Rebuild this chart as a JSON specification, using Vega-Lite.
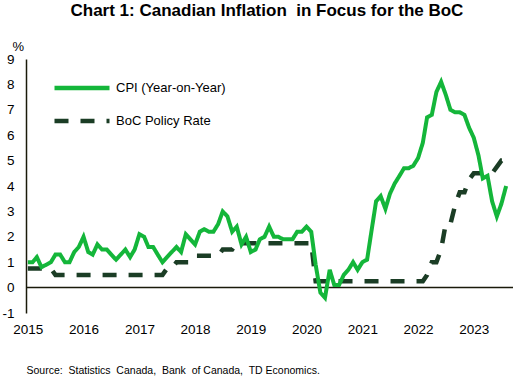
{
  "$schema": "https://vega.github.io/schema/vega-lite/v6.json",
  "autosize": {"type": "none"},
  "width": 487,
  "height": 254,
  "padding": {"left": 26, "top": 59, "right": 3, "bottom": 72},
  "background": "white",
  "config": {
    "view": {"stroke": null},
    "font": "Liberation Sans",
    "axis": {"labelFont": "Liberation Sans", "titleFont": "Liberation Sans", "labelColor": "#000000", "titleColor": "#000000", "labelOverlap": false, "ticks": false, "grid": false}
  },
  "title": {
    "text": "Chart 1: Canadian Inflation\u00a0 in Focus for the BoC",
    "fontSize": 17,
    "fontWeight": "bold",
    "font": "Liberation Sans",
    "color": "#000000",
    "anchor": "middle",
    "frame": "bounds",
    "offset": 20,
    "dx": 6
  },
  "datasets": {
    "cpi": [
      {"date": "2015-01-01", "value": 1.0}, {"date": "2015-02-01", "value": 1.0}, {"date": "2015-03-01", "value": 1.2}, {"date": "2015-04-01", "value": 0.8},
      {"date": "2015-05-01", "value": 0.9}, {"date": "2015-06-01", "value": 1.0}, {"date": "2015-07-01", "value": 1.3}, {"date": "2015-08-01", "value": 1.3},
      {"date": "2015-09-01", "value": 1.0}, {"date": "2015-10-01", "value": 1.0}, {"date": "2015-11-01", "value": 1.4}, {"date": "2015-12-01", "value": 1.6},
      {"date": "2016-01-01", "value": 2.0}, {"date": "2016-02-01", "value": 1.4}, {"date": "2016-03-01", "value": 1.3}, {"date": "2016-04-01", "value": 1.7},
      {"date": "2016-05-01", "value": 1.5}, {"date": "2016-06-01", "value": 1.5}, {"date": "2016-07-01", "value": 1.3}, {"date": "2016-08-01", "value": 1.1},
      {"date": "2016-09-01", "value": 1.3}, {"date": "2016-10-01", "value": 1.5}, {"date": "2016-11-01", "value": 1.2}, {"date": "2016-12-01", "value": 1.5},
      {"date": "2017-01-01", "value": 2.1}, {"date": "2017-02-01", "value": 2.0}, {"date": "2017-03-01", "value": 1.6}, {"date": "2017-04-01", "value": 1.6},
      {"date": "2017-05-01", "value": 1.3}, {"date": "2017-06-01", "value": 1.0}, {"date": "2017-07-01", "value": 1.2}, {"date": "2017-08-01", "value": 1.4},
      {"date": "2017-09-01", "value": 1.6}, {"date": "2017-10-01", "value": 1.4}, {"date": "2017-11-01", "value": 2.1}, {"date": "2017-12-01", "value": 1.9},
      {"date": "2018-01-01", "value": 1.7}, {"date": "2018-02-01", "value": 2.2}, {"date": "2018-03-01", "value": 2.3}, {"date": "2018-04-01", "value": 2.2},
      {"date": "2018-05-01", "value": 2.2}, {"date": "2018-06-01", "value": 2.5}, {"date": "2018-07-01", "value": 3.0}, {"date": "2018-08-01", "value": 2.8},
      {"date": "2018-09-01", "value": 2.2}, {"date": "2018-10-01", "value": 2.4}, {"date": "2018-11-01", "value": 1.7}, {"date": "2018-12-01", "value": 2.0},
      {"date": "2019-01-01", "value": 1.4}, {"date": "2019-02-01", "value": 1.5}, {"date": "2019-03-01", "value": 1.9}, {"date": "2019-04-01", "value": 2.0},
      {"date": "2019-05-01", "value": 2.4}, {"date": "2019-06-01", "value": 2.0}, {"date": "2019-07-01", "value": 2.0}, {"date": "2019-08-01", "value": 1.9},
      {"date": "2019-09-01", "value": 1.9}, {"date": "2019-10-01", "value": 1.9}, {"date": "2019-11-01", "value": 2.2}, {"date": "2019-12-01", "value": 2.2},
      {"date": "2020-01-01", "value": 2.4}, {"date": "2020-02-01", "value": 2.2}, {"date": "2020-03-01", "value": 0.9}, {"date": "2020-04-01", "value": -0.2},
      {"date": "2020-05-01", "value": -0.4}, {"date": "2020-06-01", "value": 0.7}, {"date": "2020-07-01", "value": 0.1}, {"date": "2020-08-01", "value": 0.1},
      {"date": "2020-09-01", "value": 0.5}, {"date": "2020-10-01", "value": 0.7}, {"date": "2020-11-01", "value": 1.0}, {"date": "2020-12-01", "value": 0.7},
      {"date": "2021-01-01", "value": 1.0}, {"date": "2021-02-01", "value": 1.1}, {"date": "2021-03-01", "value": 2.2}, {"date": "2021-04-01", "value": 3.4},
      {"date": "2021-05-01", "value": 3.6}, {"date": "2021-06-01", "value": 3.1}, {"date": "2021-07-01", "value": 3.7}, {"date": "2021-08-01", "value": 4.1},
      {"date": "2021-09-01", "value": 4.4}, {"date": "2021-10-01", "value": 4.7}, {"date": "2021-11-01", "value": 4.7}, {"date": "2021-12-01", "value": 4.8},
      {"date": "2022-01-01", "value": 5.1}, {"date": "2022-02-01", "value": 5.7}, {"date": "2022-03-01", "value": 6.7}, {"date": "2022-04-01", "value": 6.8},
      {"date": "2022-05-01", "value": 7.7}, {"date": "2022-06-01", "value": 8.1}, {"date": "2022-07-01", "value": 7.6}, {"date": "2022-08-01", "value": 7.0},
      {"date": "2022-09-01", "value": 6.9}, {"date": "2022-10-01", "value": 6.9}, {"date": "2022-11-01", "value": 6.8}, {"date": "2022-12-01", "value": 6.3},
      {"date": "2023-01-01", "value": 5.9}, {"date": "2023-02-01", "value": 5.2}, {"date": "2023-03-01", "value": 4.3}, {"date": "2023-04-01", "value": 4.4},
      {"date": "2023-05-01", "value": 3.4}, {"date": "2023-06-01", "value": 2.8}, {"date": "2023-07-01", "value": 3.3}, {"date": "2023-08-01", "value": 4.0}
    ],
    "boc": [
      {"date": "2015-01-01", "value": 0.75}, {"date": "2015-02-01", "value": 0.75}, {"date": "2015-03-01", "value": 0.75}, {"date": "2015-04-01", "value": 0.75},
      {"date": "2015-05-01", "value": 0.75}, {"date": "2015-06-01", "value": 0.75}, {"date": "2015-07-01", "value": 0.5}, {"date": "2015-08-01", "value": 0.5},
      {"date": "2015-09-01", "value": 0.5}, {"date": "2015-10-01", "value": 0.5}, {"date": "2015-11-01", "value": 0.5}, {"date": "2015-12-01", "value": 0.5},
      {"date": "2016-01-01", "value": 0.5}, {"date": "2016-02-01", "value": 0.5}, {"date": "2016-03-01", "value": 0.5}, {"date": "2016-04-01", "value": 0.5},
      {"date": "2016-05-01", "value": 0.5}, {"date": "2016-06-01", "value": 0.5}, {"date": "2016-07-01", "value": 0.5}, {"date": "2016-08-01", "value": 0.5},
      {"date": "2016-09-01", "value": 0.5}, {"date": "2016-10-01", "value": 0.5}, {"date": "2016-11-01", "value": 0.5}, {"date": "2016-12-01", "value": 0.5},
      {"date": "2017-01-01", "value": 0.5}, {"date": "2017-02-01", "value": 0.5}, {"date": "2017-03-01", "value": 0.5}, {"date": "2017-04-01", "value": 0.5},
      {"date": "2017-05-01", "value": 0.5}, {"date": "2017-06-01", "value": 0.5}, {"date": "2017-07-01", "value": 0.75}, {"date": "2017-08-01", "value": 0.75},
      {"date": "2017-09-01", "value": 1.0}, {"date": "2017-10-01", "value": 1.0}, {"date": "2017-11-01", "value": 1.0}, {"date": "2017-12-01", "value": 1.0},
      {"date": "2018-01-01", "value": 1.25}, {"date": "2018-02-01", "value": 1.25}, {"date": "2018-03-01", "value": 1.25}, {"date": "2018-04-01", "value": 1.25},
      {"date": "2018-05-01", "value": 1.25}, {"date": "2018-06-01", "value": 1.25}, {"date": "2018-07-01", "value": 1.5}, {"date": "2018-08-01", "value": 1.5},
      {"date": "2018-09-01", "value": 1.5}, {"date": "2018-10-01", "value": 1.75}, {"date": "2018-11-01", "value": 1.75}, {"date": "2018-12-01", "value": 1.75},
      {"date": "2019-01-01", "value": 1.75}, {"date": "2019-02-01", "value": 1.75}, {"date": "2019-03-01", "value": 1.75}, {"date": "2019-04-01", "value": 1.75},
      {"date": "2019-05-01", "value": 1.75}, {"date": "2019-06-01", "value": 1.75}, {"date": "2019-07-01", "value": 1.75}, {"date": "2019-08-01", "value": 1.75},
      {"date": "2019-09-01", "value": 1.75}, {"date": "2019-10-01", "value": 1.75}, {"date": "2019-11-01", "value": 1.75}, {"date": "2019-12-01", "value": 1.75},
      {"date": "2020-01-01", "value": 1.75}, {"date": "2020-02-01", "value": 1.75}, {"date": "2020-03-01", "value": 0.25}, {"date": "2020-04-01", "value": 0.25},
      {"date": "2020-05-01", "value": 0.25}, {"date": "2020-06-01", "value": 0.25}, {"date": "2020-07-01", "value": 0.25}, {"date": "2020-08-01", "value": 0.25},
      {"date": "2020-09-01", "value": 0.25}, {"date": "2020-10-01", "value": 0.25}, {"date": "2020-11-01", "value": 0.25}, {"date": "2020-12-01", "value": 0.25},
      {"date": "2021-01-01", "value": 0.25}, {"date": "2021-02-01", "value": 0.25}, {"date": "2021-03-01", "value": 0.25}, {"date": "2021-04-01", "value": 0.25},
      {"date": "2021-05-01", "value": 0.25}, {"date": "2021-06-01", "value": 0.25}, {"date": "2021-07-01", "value": 0.25}, {"date": "2021-08-01", "value": 0.25},
      {"date": "2021-09-01", "value": 0.25}, {"date": "2021-10-01", "value": 0.25}, {"date": "2021-11-01", "value": 0.25}, {"date": "2021-12-01", "value": 0.25},
      {"date": "2022-01-01", "value": 0.25}, {"date": "2022-02-01", "value": 0.25}, {"date": "2022-03-01", "value": 0.5}, {"date": "2022-04-01", "value": 1.0},
      {"date": "2022-05-01", "value": 1.0}, {"date": "2022-06-01", "value": 1.5}, {"date": "2022-07-01", "value": 2.5}, {"date": "2022-08-01", "value": 2.5},
      {"date": "2022-09-01", "value": 3.25}, {"date": "2022-10-01", "value": 3.75}, {"date": "2022-11-01", "value": 3.75}, {"date": "2022-12-01", "value": 4.25},
      {"date": "2023-01-01", "value": 4.5}, {"date": "2023-02-01", "value": 4.5}, {"date": "2023-03-01", "value": 4.5}, {"date": "2023-04-01", "value": 4.5},
      {"date": "2023-05-01", "value": 4.5}, {"date": "2023-06-01", "value": 4.75}, {"date": "2023-07-01", "value": 5.0}, {"date": "2023-08-01", "value": 5.0},
      {"date": "2023-09-01", "value": 5.0}
    ],
    "zero": [{"value": 0}]
  },
  "layer": [
    {
      "data": {"name": "zero"},
      "mark": {"type": "rule", "color": "#1a1a0a", "strokeWidth": 1.5},
      "encoding": {
        "y": {
          "field": "value",
          "type": "quantitative",
          "scale": {"domain": [-1, 9], "nice": false, "zero": false},
          "axis": {
            "values": [-1, 0, 1, 2, 3, 4, 5, 6, 7, 8, 9],
            "tickCount": 20,
            "labelExpr": "'' + datum.value",
            "labelOverlap": false,
            "domain": true,
            "domainColor": "#1a1a0a",
            "domainWidth": 1.5,
            "ticks": false,
            "grid": false,
            "labelFontSize": 13.5,
            "labelPadding": 12,
            "title": "%",
            "titleAngle": 0,
            "titleFontSize": 13,
            "titleFontWeight": "normal",
            "titleAlign": "left",
            "titleBaseline": "middle",
            "titleX": -14,
            "titleY": -13
          }
        }
      }
    },
    {
      "data": {"name": "boc"},
      "mark": {"type": "line", "strokeWidth": 4.5, "interpolate": "linear"},
      "encoding": {
        "x": {
          "field": "date",
          "type": "temporal",
          "scale": {"type": "utc", "domain": ["2014-12-20", "2023-09-15"]},
          "axis": {
            "values": [{"year": 2015, "utc": true}, {"year": 2016, "utc": true}, {"year": 2017, "utc": true}, {"year": 2018, "utc": true}, {"year": 2019, "utc": true}, {"year": 2020, "utc": true}, {"year": 2021, "utc": true}, {"year": 2022, "utc": true}, {"year": 2023, "utc": true}],
            "tickCount": 20,
            "format": "%Y",
            "domain": false,
            "ticks": false,
            "grid": false,
            "labelFontSize": 13.5,
            "labelPadding": 9,
            "labelAlign": "center",
            "labelOverlap": false,
            "title": "Source:\u00a0 Statistics\u00a0 Canada,\u00a0 Bank\u00a0 of Canada,\u00a0 TD Economics.",
            "titleFontSize": 10.5,
            "titleFontWeight": "normal",
            "titleAnchor": "start",
            "titleAlign": "left",
            "titleX": 0,
            "titleY": 57,
            "titleBaseline": "middle"
          }
        },
        "y": {"field": "value", "type": "quantitative"},
        "color": {"datum": "BoC Policy Rate"},
        "strokeDash": {"datum": "BoC Policy Rate"}
      }
    },
    {
      "data": {"name": "cpi"},
      "mark": {"type": "line", "strokeWidth": 4, "interpolate": "linear"},
      "encoding": {
        "x": {"field": "date", "type": "temporal"},
        "y": {"field": "value", "type": "quantitative"},
        "color": {
          "datum": "CPI (Year-on-Year)",
          "scale": {"domain": ["CPI (Year-on-Year)", "BoC Policy Rate"], "range": ["#14b63a", "#1b3d25"]},
          "legend": {
            "orient": "none",
            "legendX": 48,
            "legendY": 21,
            "title": null,
            "symbolType": "M-5,0H5",
            "symbolSize": 121,
            "symbolStrokeWidth": 4.5,
            "labelFontSize": 13,
            "labelFont": "Liberation Sans",
            "labelColor": "#000000",
            "labelOffset": 26,
            "rowPadding": 15
          }
        },
        "strokeDash": {
          "datum": "CPI (Year-on-Year)",
          "scale": {"domain": ["CPI (Year-on-Year)", "BoC Policy Rate"], "range": [[1, 0], [14, 12]]},
          "legend": {
            "orient": "none",
            "legendX": 48,
            "legendY": 21,
            "title": null,
            "symbolType": "M-5,0H5",
            "symbolSize": 121,
            "symbolStrokeWidth": 4.5,
            "labelFontSize": 13,
            "labelFont": "Liberation Sans",
            "labelColor": "#000000",
            "labelOffset": 26,
            "rowPadding": 15
          }
        }
      }
    }
  ]
}
